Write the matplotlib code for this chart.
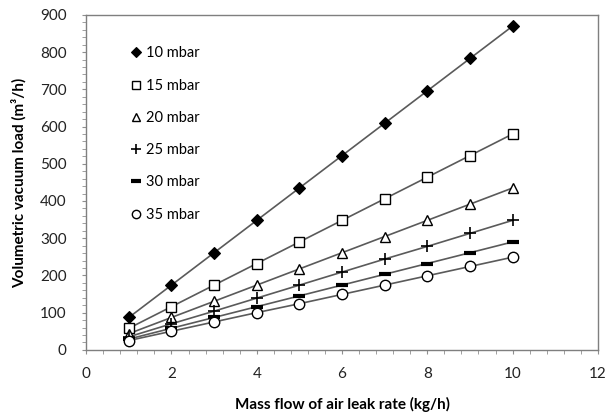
import matplotlib
matplotlib.use("Agg")
import matplotlib.pyplot as plt
from matplotlib.lines import Line2D
from matplotlib.ticker import MultipleLocator

plt.rcParams['font.family'] = ['Lato', 'DejaVu Sans']

# air leak rate (kg/h)
leak = [1, 2, 3, 4, 5, 6, 7, 8, 9, 10]

# volumetric load (m3/h) per suction pressure
load_10 = [87, 174, 261, 348, 435, 522, 609, 696, 783, 870]
load_15 = [58, 116, 174, 232, 290, 348, 406, 464, 522, 580]
load_20 = [43.5, 87, 130.5, 174, 217.5, 261, 304.5, 348, 391.5, 435]
load_25 = [35, 70, 104, 139, 174, 209, 244, 278, 313, 348]
load_30 = [29, 58, 87, 116, 145, 174, 203, 232, 261, 290]
load_35 = [25, 50, 75, 100, 124, 149, 174, 199, 224, 249]

labels = ["10 mbar", "15 mbar", "20 mbar", "25 mbar", "30 mbar", "35 mbar"]
series = [load_10, load_15, load_20, load_25, load_30, load_35]

# marker styles: (marker, size, facecolor, edgewidth)
styles = [
    ("D", 6.5, "black", 0.8),
    ("s", 7.5, "white", 1.0),
    ("^", 7.5, "white", 1.0),
    ("+", 9, "black", 1.2),
    ("_", 9, "black", 3.0),
    ("o", 7.5, "white", 1.0),
]

fig = plt.figure(figsize=(6.07, 4.15), dpi=100)
ax = fig.add_axes([0.142, 0.157, 0.843, 0.807])

line_col = "#5a5a5a"
handles = []
for ys, lab, (m, ms, fc, mew) in zip(series, labels, styles):
    ax.plot(leak, ys, color=line_col, lw=1.2, zorder=2)
    ax.plot(leak, ys, ls="none", marker=m, ms=ms, mfc=fc, mec="black",
            mew=mew, zorder=3)
    handles.append(Line2D([], [], ls="none", marker=m, ms=ms - 1.5, mfc=fc,
                          mec="black", mew=mew))

ax.set_xlim(0, 12)
ax.set_ylim(0, 900)
ax.xaxis.set_major_locator(MultipleLocator(2))
ax.xaxis.set_minor_locator(MultipleLocator(0.4))
ax.yaxis.set_major_locator(MultipleLocator(100))
ax.yaxis.set_minor_locator(MultipleLocator(20))

for s in ax.spines.values():
    s.set_color("#7f7f7f")
    s.set_linewidth(1.0)
ax.tick_params(axis="both", which="both", direction="out", color="#8f8f8f",
               labelsize=11, labelcolor="#222222", length=3)
ax.tick_params(axis="x", pad=9)
ax.tick_params(axis="y", pad=11)

ax.set_xlabel("Mass flow of air leak rate (kg/h)", fontsize=11,
              fontweight="bold", labelpad=12)
ax.set_ylabel("Volumetric vacuum load (m³/h)", fontsize=11,
              fontweight="bold", labelpad=10)

ax.legend(handles, labels, loc="upper left", bbox_to_anchor=(0.06, 0.945),
          frameon=False, fontsize=10.5, handlelength=0.8, handletextpad=0.3,
          labelspacing=1.25)

fig.savefig("out.png", dpi=100)
